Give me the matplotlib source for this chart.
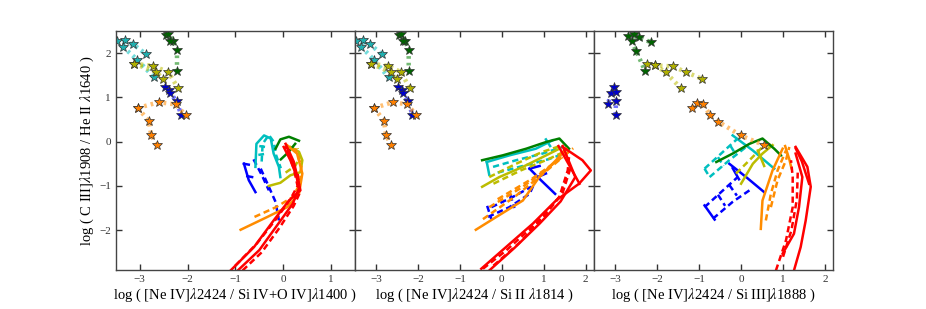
import numpy as np
import matplotlib.pyplot as plt

plt.rcParams['font.family'] = 'serif'
plt.rcParams['font.serif'] = ['Liberation Serif', 'DejaVu Serif']
plt.rcParams['mathtext.fontset'] = 'stix'

# ---- star tracks: lists of (x, y) polylines, panels 1 and 2 share them
st12_cyan = [([-3.48, -3.14, -2.86], [2.27, 2.20, 1.97]),
             ([-3.31, -3.35, -3.05, -2.70], [2.29, 2.14, 1.85, 1.45])]
st12_olive = [([-3.12, -2.72, -2.40, -2.20], [1.76, 1.71, 1.57, 1.21]),
              ([-3.12, -2.65, -2.51], [1.76, 1.57, 1.42])]
st12_green = [([-2.44, -2.40, -2.30, -2.22, -2.22], [2.40, 2.44, 2.27, 2.06, 1.60]),
              ([-2.36], [2.27])]
st12_blue = [([-2.48, -2.39, -2.36, -2.23, -2.13], [1.24, 1.16, 1.10, 0.91, 0.60])]
st12_orange = [([-3.04, -2.60, -2.25, -2.04], [0.76, 0.89, 0.84, 0.60]),
               ([-3.04, -2.81, -2.76, -2.63], [0.76, 0.47, 0.14, -0.08])]

st3_green = [([-2.70, -2.43, -2.15], [2.38, 2.36, 2.24]),
             ([-2.56, -2.61, -2.50, -2.29], [2.42, 2.27, 2.05, 1.60])]
st3_olive = [([-2.25, -2.06, -1.63, -1.31, -0.94], [1.75, 1.72, 1.70, 1.57, 1.42]),
             ([-2.06, -1.80, -1.44], [1.72, 1.57, 1.21])]
st3_blue = [([-3.02, -3.10, -3.17], [1.23, 1.10, 0.85]),
            ([-2.98, -2.98, -2.99], [1.12, 0.91, 0.60])]
st3_orange = [([-1.16, -1.05, -0.91, -0.74, -0.54, -0.01, 0.55],
               [0.77, 0.88, 0.84, 0.61, 0.45, 0.14, -0.08])]

# ---- model grids, panel 1
m1_red_solid = [([-1.10, -0.61, -0.20, 0.12, 0.36, 0.29, 0.15, 0.01],
                 [-2.91, -2.38, -1.78, -1.33, -1.10, -0.80, -0.42, -0.12]),
                ([-0.95, -0.50, -0.10, 0.20, 0.33, 0.25, 0.10],
                 [-2.91, -2.45, -1.85, -1.40, -1.05, -0.65, -0.20]),
                ([0.05, 0.22, 0.33], [-0.05, -0.45, -0.95])]
m1_red_dash = [([-1.00, -0.55, -0.15, 0.15, 0.30, 0.22, 0.05],
                [-2.80, -2.30, -1.75, -1.30, -1.00, -0.60, -0.10]),
               ([-0.85, -0.45, -0.08, 0.22, 0.35, 0.30],
                [-2.91, -2.50, -1.95, -1.45, -1.15, -0.70])]
m1_orange_solid = [([-0.89, -0.33, 0.08, 0.33, 0.40, 0.29, 0.08],
                    [-1.99, -1.70, -1.48, -1.18, -0.72, -0.27, -0.08])]
m1_orange_dash = [([-0.60, -0.15, 0.20, 0.35, 0.38, 0.25],
                   [-1.70, -1.48, -1.25, -0.95, -0.55, -0.15])]
m1_olive_solid = [([-0.30, -0.06, 0.15, 0.36, 0.40, 0.33, 0.15],
                   [-1.00, -0.93, -0.76, -0.69, -0.42, -0.23, -0.12])]
m1_olive_dash = [([0.05, 0.25, 0.35, 0.30], [-0.70, -0.55, -0.35, -0.15])]
m1_cyan_solid = [([-0.58, -0.56, -0.40, -0.26, -0.20, -0.09, -0.06],
                  [-0.57, -0.05, 0.14, 0.07, -0.27, -0.57, -0.80])]
m1_cyan_dash = [([-0.45, -0.43, -0.30, -0.20, -0.15, -0.05],
                 [-0.45, -0.05, 0.15, 0.00, -0.30, -0.60]),
                ([-0.52, -0.40], [-0.30, -0.28]), ([-0.50, -0.38], [-0.10, -0.12])]
m1_green_solid = [([-0.16, -0.06, 0.12, 0.33], [-0.16, 0.05, 0.11, 0.02]),
                  ([-0.05, 0.10, 0.25], [-0.40, -0.25, -0.05])]
m1_green_dash = []
m1_blue_solid = [([-0.82, -0.72, -0.58], [-0.50, -0.87, -1.14]),
                 ([-0.82, -0.72], [-0.50, -0.52]), ([-0.75, -0.65], [-0.78, -0.80])]
m1_blue_dash = [([-0.47, -0.30, -0.16, -0.09], [-0.61, -1.02, -1.36, -1.78]),
                ([-0.62, -0.45, -0.30], [-0.40, -0.75, -1.10])]

# ---- model grids, panel 2
m2_red_solid = [([-0.49, 0.10, 0.74, 1.29, 1.84, 2.12, 1.92, 1.45],
                 [-2.87, -2.38, -1.85, -1.33, -0.95, -0.65, -0.42, -0.12]),
                ([-0.30, 0.30, 0.90, 1.40, 1.75, 1.45],
                 [-2.91, -2.40, -1.85, -1.35, -0.80, -0.10]),
                ([1.35, 1.85], [-0.10, -0.95])]
m2_red_dash = [([-0.45, 0.10, 0.81, 1.37, 1.57, 1.60],
                [-2.87, -2.46, -1.85, -1.25, -0.65, -0.35]),
               ([-0.20, 0.40, 1.00, 1.45, 1.65],
                [-2.80, -2.30, -1.70, -1.15, -0.55])]
m2_orange_solid = [([-0.62, -0.13, 0.50, 0.89, 1.29, 1.53],
                    [-1.99, -1.70, -1.33, -0.80, -0.42, -0.16])]
m2_orange_dash = [([-0.30, 0.50, 1.13, 1.60], [-1.48, -1.02, -0.57, -0.23]),
                  ([-0.10, 0.70, 1.30, 1.70], [-1.30, -0.85, -0.45, -0.15]),
                  ([-0.45, 0.30, 0.95, 1.45], [-1.75, -1.25, -0.75, -0.35])]
m2_olive_solid = [([-0.47, -0.06, 0.50, 0.97, 1.37], [-1.02, -0.80, -0.57, -0.35, -0.16])]
m2_olive_dash = [([-0.30, 0.34, 0.97, 1.45], [-0.80, -0.50, -0.23, -0.08]),
                 ([-0.20, 0.45, 1.10, 1.55], [-0.95, -0.65, -0.40, -0.20])]
m2_cyan_solid = [([-0.36, 0.18, 0.81, 1.21], [-0.46, -0.31, -0.16, 0.03]),
                 ([-0.36, -0.30], [-0.46, -0.75]),
                 ([1.05, 1.15], [0.05, -0.10])]
m2_cyan_dash = [([-0.21, 0.34, 0.97, 1.45], [-0.57, -0.42, -0.27, -0.12]),
                ([-0.10, 0.50, 1.10, 1.55], [-0.70, -0.55, -0.40, -0.25])]
m2_green_solid = [([-0.47, 0.02, 0.58, 1.05, 1.37, 1.60], [-0.42, -0.31, -0.16, -0.01, 0.07, -0.16])]
m2_green_dash = []
m2_blue_solid = [([0.66, 0.93, 1.27], [-0.61, -0.87, -1.18]),
                 ([0.66, 0.90], [-0.61, -0.55]), ([0.85, 1.05], [-0.80, -0.72])]
m2_blue_dash = [([-0.33, 0.18, 0.66, 0.81], [-1.70, -1.48, -1.18, -0.87]),
                ([-0.25, 0.26, 0.70], [-1.48, -1.25, -1.02]),
                ([-0.35, -0.25], [-1.45, -1.75]), ([0.20, 0.30], [-1.20, -1.50])]

# ---- model grids, panel 3
m3_red_solid = [([1.26, 1.42, 1.54, 1.66, 1.58, 1.30], [-2.91, -2.38, -1.78, -1.02, -0.57, -0.12]),
                ([0.99, 1.26, 1.38, 1.46, 1.30], [-2.53, -2.08, -1.48, -0.80, -0.27]),
                ([1.30, 1.45, 1.62], [-0.15, -0.45, -0.95])]
m3_red_dash = [([0.83, 1.07, 1.23, 1.23, 1.19], [-2.91, -2.23, -1.48, -0.80, -0.42]),
               ([1.00, 1.20, 1.33, 1.35], [-2.60, -2.00, -1.30, -0.70])]
m3_orange_solid = [([0.47, 0.51, 0.75, 0.99], [-1.97, -1.33, -0.65, -0.16]),
                   ([1.05, 1.15, 1.20], [-0.10, -0.40, -0.60])]
m3_orange_dash = [([0.59, 0.71, 0.87, 1.07], [-1.78, -1.18, -0.65, -0.20]),
                  ([0.71, 0.87, 1.07, 1.15], [-1.48, -0.87, -0.42, -0.12])]
m3_olive_solid = [([0.00, 0.28, 0.51, 0.75], [-0.95, -0.50, -0.27, -0.08]),
                  ([0.40, 0.55], [-0.20, -0.55])]
m3_olive_dash = [([-0.12, 0.20, 0.51, 0.80], [-0.72, -0.42, -0.12, -0.05])]
m3_cyan_solid = [([-0.20, 0.28, 0.79], [0.14, -0.20, -0.61])]
m3_cyan_dash = [([-0.87, -0.43, -0.08], [-0.61, -0.23, 0.07]),
                ([-0.75, -0.28, 0.12], [-0.80, -0.42, -0.12]),
                ([-0.87, -0.75], [-0.61, -0.80]), ([-0.55, -0.42], [-0.35, -0.55]),
                ([-0.25, -0.12], [-0.10, -0.30])]
m3_green_solid = [([-0.59, -0.20, 0.20, 0.51, 0.79, 0.95], [-0.46, -0.27, -0.05, 0.07, -0.16, -0.31])]
m3_green_dash = []
m3_blue_solid = [([-0.28, 0.12, 0.55], [-0.50, -0.80, -1.14]),
                 ([-0.87, -0.63], [-1.44, -1.76]),
                 ([-0.20, -0.05], [-0.60, -0.85])]
m3_blue_dash = [([-0.87, -0.43, -0.08], [-1.48, -1.10, -0.80]),
                ([-0.67, -0.20, 0.20], [-1.74, -1.36, -1.10]),
                ([-0.55, -0.38], [-1.20, -1.45]), ([-0.28, -0.10], [-0.98, -1.22])]

xlabels = [r'log ( [Ne IV]$\lambda$2424 / Si IV+O IV]$\lambda$1400 )',
           r'log ( [Ne IV]$\lambda$2424 / Si II $\lambda$1814 )',
           r'log ( [Ne IV]$\lambda$2424 / Si III]$\lambda$1888 )']
ylabel = r'log ( C III]$\lambda$1908 / He II $\lambda$1640 )'

col = {'red': '#ff0000', 'orange': '#ff8c00', 'olive': '#bcbc00',
       'green': '#008000', 'cyan': '#00bfbf', 'blue': '#0000ff'}
starcol = {'cyan': '#20b0b0', 'olive': '#b0b000', 'green': '#006400',
           'blue': '#0000cc', 'orange': '#ff8000'}

panels = [
    dict(stars={'cyan': st12_cyan, 'olive': st12_olive, 'green': st12_green,
                'blue': st12_blue, 'orange': st12_orange},
         solid={'red': m1_red_solid, 'orange': m1_orange_solid, 'olive': m1_olive_solid,
                'cyan': m1_cyan_solid, 'green': m1_green_solid, 'blue': m1_blue_solid},
         dash={'red': m1_red_dash, 'orange': m1_orange_dash, 'olive': m1_olive_dash,
               'cyan': m1_cyan_dash, 'green': m1_green_dash, 'blue': m1_blue_dash},
         xlim=(-3.5, 1.5)),
    dict(stars={'cyan': st12_cyan, 'olive': st12_olive, 'green': st12_green,
                'blue': st12_blue, 'orange': st12_orange},
         solid={'red': m2_red_solid, 'orange': m2_orange_solid, 'olive': m2_olive_solid,
                'cyan': m2_cyan_solid, 'green': m2_green_solid, 'blue': m2_blue_solid},
         dash={'red': m2_red_dash, 'orange': m2_orange_dash, 'olive': m2_olive_dash,
               'cyan': m2_cyan_dash, 'green': m2_green_dash, 'blue': m2_blue_dash},
         xlim=(-3.5, 2.2)),
    dict(stars={'green': st3_green, 'olive': st3_olive, 'blue': st3_blue,
                'orange': st3_orange},
         solid={'red': m3_red_solid, 'orange': m3_orange_solid, 'olive': m3_olive_solid,
                'cyan': m3_cyan_solid, 'green': m3_green_solid, 'blue': m3_blue_solid},
         dash={'red': m3_red_dash, 'orange': m3_orange_dash, 'olive': m3_olive_dash,
               'cyan': m3_cyan_dash, 'green': m3_green_dash, 'blue': m3_blue_dash},
         xlim=(-3.5, 2.2)),
]

fig, axes = plt.subplots(1, 3, figsize=(9.26, 3.09), dpi=100)
plt.subplots_adjust(left=0.125, right=0.9, bottom=0.126, top=0.9, wspace=0)

for i, (ax, p) in enumerate(zip(axes, panels)):
    for c in ['blue', 'cyan', 'olive', 'green', 'orange', 'red']:
        for xs, ys in p['dash'][c]:
            ax.plot(xs, ys, '--', color=col[c], lw=1.8, dashes=(2.5, 1.5))
        for xs, ys in p['solid'][c]:
            ax.plot(xs, ys, '-', color=col[c], lw=1.8)
    for c, tracks in p['stars'].items():
        for xs, ys in tracks:
            ax.plot(xs, ys, color=col[c], lw=3.2, alpha=0.55, dashes=(0.6, 0.9))
            ax.plot(xs, ys, '*', ms=7, mfc=starcol[c], mec='#333333', mew=0.5, ls='none')
    ax.set_xlim(p['xlim'])
    ax.set_ylim(-2.9, 2.5)
    ax.set_xticks(np.arange(-3, p['xlim'][1] + 0.01, 1))
    ax.set_yticks([-2, -1, 0, 1, 2])
    ax.tick_params(direction='in', top=True, right=True, length=4, width=1,
                   labelsize=8, colors='#333333')
    for s in ax.spines.values():
        s.set_color('#444444')
        s.set_linewidth(1.0)
    ax.set_xlabel(xlabels[i], fontsize=10.5, labelpad=2)
    if i == 0:
        ax.set_ylabel(ylabel, fontsize=10.5, labelpad=2)
    else:
        ax.set_yticklabels([])

plt.savefig('out.png', dpi=100)
